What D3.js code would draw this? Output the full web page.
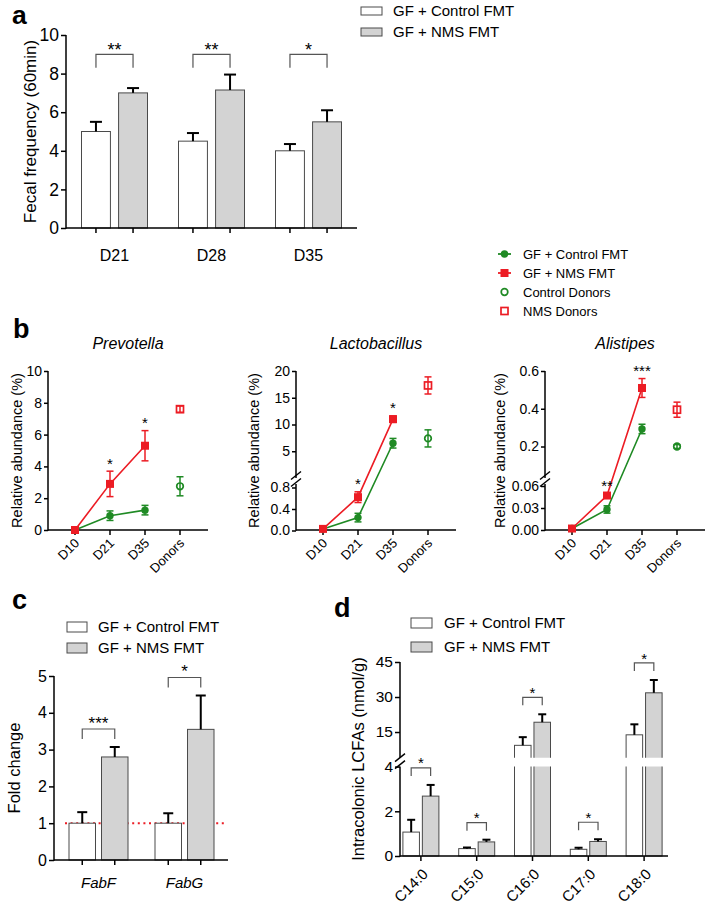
<!DOCTYPE html>
<html>
<head>
<meta charset="utf-8">
<script src="https://cdn.jsdelivr.net/npm/d3@7/dist/d3.min.js"></script>
<style>
html,body{margin:0;padding:0;background:#fff;}
svg{display:block;}
text{font-family:"Liberation Sans",Arial,Helvetica,sans-serif;fill:#000;}
</style>
</head>
<body>
<svg id="fig" width="709" height="906"></svg>
<script>
// ================= DATA =================
const seriesNames = ["GF + Control FMT", "GF + NMS FMT"];

// Panel a
const aDays = ["D21", "D28", "D35"];
const aControlMean = [5.0, 4.5, 4.0];
const aControlSem = [0.5, 0.42, 0.35];
const aNmsMean = [7.0, 7.15, 5.5];
const aNmsSem = [0.25, 0.8, 0.6];
const aStars = ["**", "**", "*"];
const aYTicks = [0, 2, 4, 6, 8, 10];

// Panel b
const bLegendLabels = ["GF + Control FMT", "GF + NMS FMT", "Control Donors", "NMS Donors"];
const bTimes = ["D10", "D21", "D35", "Donors"];
const bGenera = ["Prevotella", "Lactobacillus", "Alistipes"];

const prevControlMean = [0.0, 0.9, 1.25];
const prevControlSem = [0.05, 0.3, 0.3];
const prevNmsMean = [0.0, 2.9, 5.3];
const prevNmsSem = [0.05, 0.8, 0.95];
const prevDonorMean = [2.75, 7.6];   // [Control donors, NMS donors]
const prevDonorSem = [0.6, 0.2];
const prevStars = ["", "*", "*"];
const prevYTicks = [0, 2, 4, 6, 8, 10];

const lactoControlMean = [0.03, 0.24, 6.5];
const lactoControlSem = [0.01, 0.08, 0.9];
const lactoNmsMean = [0.03, 0.62, 11.0];
const lactoNmsSem = [0.01, 0.1, 0.6];
const lactoDonorMean = [7.4, 17.3];
const lactoDonorSem = [1.6, 1.6];
const lactoStars = ["", "*", "*"];
const lactoLowerTicks = [0.0, 0.4, 0.8];
const lactoUpperTicks = [5, 10, 15, 20];

const alisControlMean = [0.002, 0.028, 0.293];
const alisControlSem = [0.001, 0.005, 0.025];
const alisNmsMean = [0.002, 0.047, 0.51];
const alisNmsSem = [0.001, 0.003, 0.05];
const alisDonorMean = [0.2, 0.395];
const alisDonorSem = [0.01, 0.04];
const alisStars = ["", "**", "***"];
const alisLowerTicks = [0.00, 0.03, 0.06];
const alisUpperTicks = [0.2, 0.4, 0.6];

// Panel c
const cGenes = ["FabF", "FabG"];
const cControlMean = [1.0, 1.0];
const cControlSem = [0.3, 0.27];
const cNmsMean = [2.8, 3.55];
const cNmsSem = [0.27, 0.92];
const cStars = ["***", "*"];
const cYTicks = [0, 1, 2, 3, 4, 5];
const cReference = 1;

// Panel d
const dAcids = ["C14:0", "C15:0", "C16:0", "C17:0", "C18:0"];
const dControlMean = [1.07, 0.33, 9.3, 0.3, 13.8];
const dControlSem = [0.55, 0.05, 3.5, 0.07, 4.5];
const dNmsMean = [2.68, 0.63, 19.2, 0.65, 31.8];
const dNmsSem = [0.5, 0.1, 3.4, 0.1, 5.5];
const dStars = ["*", "*", "*", "*", "*"];
const dLowerTicks = [0, 2, 4];
const dUpperTicks = [15, 30, 45];

// ================= STYLE =================
const RED = "#ec1c24", GREEN = "#1f8a24", GRAYFILL = "#d3d3d3", OUTLINE = "#4a4a4a";
const svg = d3.select("#fig");
const defs = svg.append("defs");

function hline(g, x1, x2, y, w, c) {
  g.append("line").attr("x1", x1).attr("x2", x2).attr("y1", y).attr("y2", y)
    .attr("stroke", c || "#000").attr("stroke-width", w || 1.5);
}
function vline(g, x, y1, y2, w, c) {
  g.append("line").attr("x1", x).attr("x2", x).attr("y1", y1).attr("y2", y2)
    .attr("stroke", c || "#000").attr("stroke-width", w || 1.5);
}
function leftTicks(g, scale, ticks, axisX, fmt, fs, size, pad) {
  const axis = d3.axisLeft(scale).tickValues(ticks).tickSize(size).tickPadding(pad);
  if (fmt) axis.tickFormat(fmt);
  const ag = g.append("g").attr("transform", `translate(${axisX},0)`).call(axis);
  ag.select(".domain").remove();
  ag.selectAll(".tick line").attr("stroke", "#000").attr("stroke-width", 1.5);
  ag.selectAll(".tick text").attr("font-size", fs).attr("fill", "#000");
}
function breakMarks(g, axisX, yMid) {
  [-3.5, 3.5].forEach(o => {
    g.append("line").attr("x1", axisX - 5).attr("y1", yMid + o + 4)
      .attr("x2", axisX + 5).attr("y2", yMid + o - 4)
      .attr("stroke", "#000").attr("stroke-width", 1.5);
  });
}
function addClip(id, rects) {
  const cp = defs.append("clipPath").attr("id", id);
  rects.forEach(r => cp.append("rect").attr("x", r[0]).attr("y", r[1]).attr("width", r[2]).attr("height", r[3]));
}
function bracket(g, x1, x2, yTop, leg, star, fs, starGap) {
  const p = d3.path();
  p.moveTo(x1, yTop + leg); p.lineTo(x1, yTop); p.lineTo(x2, yTop); p.lineTo(x2, yTop + leg);
  g.append("path").attr("d", p.toString()).attr("fill", "none").attr("stroke", "#555").attr("stroke-width", 1.2);
  g.append("text").attr("x", (x1 + x2) / 2).attr("y", yTop - starGap + 0.57 * fs)
    .attr("text-anchor", "middle").attr("font-size", fs).text(star);
}
function barLegend(g, bx, rowsY, bw, bh, tx, fs) {
  seriesNames.forEach((s, k) => {
    g.append("rect").attr("x", bx).attr("y", rowsY[k] - bh / 2).attr("width", bw).attr("height", bh)
      .attr("fill", k ? GRAYFILL : "#fff").attr("stroke", OUTLINE).attr("stroke-width", 1);
    g.append("text").attr("x", tx).attr("y", rowsY[k]).attr("dy", "0.35em").attr("font-size", fs).text(s);
  });
}
// grouped bar drawer: returns bar centers
function groupedBars(g, cats, means, sems, xBand, xSub, y, y0, opt) {
  const barsG = g.append("g");
  if (opt.clip) barsG.attr("clip-path", `url(#${opt.clip})`);
  const errG = g.append("g");
  const centers = [];
  cats.forEach((c, i) => {
    const gc = xBand(c) + xBand.bandwidth() / 2;
    const row = [];
    seriesNames.forEach((s, k) => {
      const bx = gc + xSub(s);
      const v = means[k][i];
      barsG.append("rect").attr("x", bx).attr("y", y(v)).attr("width", xSub.bandwidth())
        .attr("height", y0 - y(v)).attr("fill", k ? GRAYFILL : "#fff")
        .attr("stroke", OUTLINE).attr("stroke-width", 1);
      const cx = bx + xSub.bandwidth() / 2;
      const top = y(v + sems[k][i]);
      vline(errG, cx, y(v), top, opt.errW);
      hline(errG, cx - opt.capW / 2, cx + opt.capW / 2, top, opt.errW);
      row.push({cx, top});
    });
    centers.push({gc, bars: row});
  });
  return centers;
}

// ================= PANEL a =================
{
  const g = svg.append("g");
  const x = d3.scaleBand().domain(aDays).range([66, 357]);
  const xs = d3.scaleBand().domain(seriesNames).range([-33, 33]).paddingInner(0.22);
  const y = d3.scaleLinear().domain([0, 10]).range([228, 35]);
  const cs = groupedBars(g, aDays, [aControlMean, aNmsMean], [aControlSem, aNmsSem], x, xs, y, y(0), {errW: 2, capW: 12});
  vline(g, 66, y(0) + 0.75, y(10));
  leftTicks(g, y, aYTicks, 66, d3.format("d"), 17.5, 5, 2);
  hline(g, 66, 357, y(0));
  cs.forEach((c, i) => {
    c.bars.forEach(b => vline(g, b.cx, y(0), y(0) + 5));
    g.append("text").attr("x", c.gc).attr("y", 261).attr("text-anchor", "middle").attr("font-size", 16).text(aDays[i]);
    bracket(g, c.bars[0].cx, c.bars[1].cx, y(9.0), y(8.3) - y(9.0), aStars[i], 18, 9);
  });
  g.append("text").attr("transform", `translate(36,${(y(0) + y(10)) / 2}) rotate(-90)`)
    .attr("text-anchor", "middle").attr("font-size", 17).text("Fecal frequency (60min)");
  g.append("text").attr("x", 12).attr("y", 24).attr("font-size", 26.5).attr("font-weight", "bold").text("a");
  barLegend(g, 361, [11, 32], 21, 8, 393, 15);
}

// ================= PANEL b =================
{
  const g = svg.append("g");
  g.append("text").attr("x", 13).attr("y", 338).attr("font-size", 27).attr("font-weight", "bold").text("b");

  // legend
  const legY = [254, 273, 292, 311];
  const lg = g.append("g");
  function marker(gg, type, cx, cy, color) {
    if (type === "fcircle") gg.append("circle").attr("cx", cx).attr("cy", cy).attr("r", 3.7).attr("fill", color);
    else if (type === "fsquare") gg.append("rect").attr("x", cx - 4).attr("y", cy - 4).attr("width", 8).attr("height", 8).attr("fill", color);
    else if (type === "ocircle") gg.append("circle").attr("cx", cx).attr("cy", cy).attr("r", 3.3).attr("fill", "none").attr("stroke", color).attr("stroke-width", 1.7);
    else gg.append("rect").attr("x", cx - 3.5).attr("y", cy - 3.5).attr("width", 7).attr("height", 7).attr("fill", "none").attr("stroke", color).attr("stroke-width", 1.7);
  }
  const legTypes = [["fcircle", GREEN, true], ["fsquare", RED, true], ["ocircle", GREEN, false], ["osquare", RED, false]];
  bLegendLabels.forEach((lab, k) => {
    const [t, col, hasLine] = legTypes[k];
    if (hasLine) hline(lg, 498, 511, legY[k], 1.8, col);
    marker(lg, t, 504.5, legY[k], col);
    lg.append("text").attr("x", 523).attr("y", legY[k]).attr("dy", "0.35em").attr("font-size", 13).text(lab);
  });

  const panels = [
    {name: bGenera[0], ax: 48, titleOff: 26,
     ctrlM: prevControlMean, ctrlS: prevControlSem, nmsM: prevNmsMean, nmsS: prevNmsSem,
     donM: prevDonorMean, donS: prevDonorSem, stars: prevStars,
     segs: [{scale: d3.scaleLinear().domain([0, 10]).range([530, 371]), ticks: prevYTicks, fmt: d3.format("d"), yB: 530, yT: 371}]},
    {name: bGenera[1], ax: 296, titleOff: 37,
     ctrlM: lactoControlMean, ctrlS: lactoControlSem, nmsM: lactoNmsMean, nmsS: lactoNmsSem,
     donM: lactoDonorMean, donS: lactoDonorSem, stars: lactoStars,
     segs: [{scale: d3.scaleLinear().domain([0, 0.8]).range([530.5, 487.5]), ticks: lactoLowerTicks, fmt: d3.format(".1f"), yB: 530, yT: 484},
            {scale: d3.scaleLinear().domain([0, 20]).range([478, 371]), ticks: lactoUpperTicks, fmt: d3.format("d"), yB: 478, yT: 371}]},
    {name: bGenera[2], ax: 545, titleOff: 40,
     ctrlM: alisControlMean, ctrlS: alisControlSem, nmsM: alisNmsMean, nmsS: alisNmsSem,
     donM: alisDonorMean, donS: alisDonorSem, stars: alisStars,
     segs: [{scale: d3.scaleLinear().domain([0, 0.06]).range([530, 486]), ticks: alisLowerTicks, fmt: d3.format(".2f"), yB: 530, yT: 484},
            {scale: d3.scaleLinear().domain([0.03, 0.6]).range([478.6, 371]), ticks: alisUpperTicks, fmt: d3.format(".1f"), yB: 478, yT: 371}]}
  ];

  panels.forEach((p, pi) => {
    const pg = g.append("g");
    const x = d3.scalePoint().domain(bTimes).range([p.ax + 27, p.ax + 132]);
    const segMax = p.segs.map(s => s.scale.invert(s.yT));
    const yOf = v => {
      for (let i = 0; i < p.segs.length; i++) if (v <= segMax[i] || i === p.segs.length - 1) return p.segs[i].scale(v);
    };
    // axes
    p.segs.forEach(s => {
      vline(pg, p.ax, s.yB + (s.yB === 530 ? 0.75 : 0), s.yT);
      leftTicks(pg, s.scale, s.ticks, p.ax, s.fmt, 14, 4, 2);
    });
    if (p.segs.length > 1) breakMarks(pg, p.ax, (p.segs[0].yT + p.segs[1].yB) / 2 - 2);
    hline(pg, p.ax, p.ax + 160, 530);
    bTimes.forEach(t => {
      vline(pg, x(t), 530, 535);
      pg.append("text").attr("transform", `translate(${x(t) + 5},544) rotate(-45)`)
        .attr("text-anchor", "end").attr("font-size", 13).text(t);
    });
    pg.append("text").attr("x", p.ax + 80).attr("y", 348.5).attr("text-anchor", "middle")
      .attr("font-size", 16).attr("font-style", "italic").text(p.name);
    pg.append("text").attr("transform", `translate(${p.ax - p.titleOff},450.5) rotate(-90)`)
      .attr("text-anchor", "middle").attr("font-size", 14.5).text("Relative abundance (%)");

    // clip for lines
    let clipAttr = null;
    if (p.segs.length > 1) {
      const id = "bclip" + pi;
      addClip(id, p.segs.map(s => [p.ax, s.yT - 20, 180, (s.yB === 530 ? 545 : s.yB) - (s.yT - 20)]));
      clipAttr = `url(#${id})`;
    }
    const line = d3.line().x(d => x(d.t)).y(d => yOf(d.v));
    const groups = [
      {m: p.ctrlM, s: p.ctrlS, col: GREEN, type: "fcircle", dType: "ocircle", dIdx: 0},
      {m: p.nmsM, s: p.nmsS, col: RED, type: "fsquare", dType: "osquare", dIdx: 1}
    ];
    groups.forEach(gr => {
      const pts = bTimes.slice(0, 3).map((t, i) => ({t, v: gr.m[i], e: gr.s[i]}));
      const lp = pg.append("path").attr("d", line(pts)).attr("fill", "none").attr("stroke", gr.col).attr("stroke-width", 1.6);
      if (clipAttr) lp.attr("clip-path", clipAttr);
      const all = pts.concat([{t: "Donors", v: p.donM[gr.dIdx], e: p.donS[gr.dIdx], donor: true}]);
      all.forEach(d => {
        const cx = x(d.t), yt = yOf(d.v + d.e), yb = yOf(Math.max(0, d.v - d.e));
        if (d.donor) marker(pg, gr.dType, cx, yOf(d.v), gr.col);
        vline(pg, cx, yb, yt, 1.5, gr.col);
        hline(pg, cx - 3.5, cx + 3.5, yt, 1.5, gr.col);
        hline(pg, cx - 3.5, cx + 3.5, yb, 1.5, gr.col);
        if (!d.donor) marker(pg, gr.type, cx, yOf(d.v), gr.col);
      });
    });
    // significance stars over NMS series
    p.stars.forEach((st, i) => {
      if (!st) return;
      const yt = yOf(p.nmsM[i] + p.nmsS[i]);
      pg.append("text").attr("x", x(bTimes[i])).attr("y", yt - 11 + 0.57 * 15)
        .attr("text-anchor", "middle").attr("font-size", 15).text(st);
    });
  });
}

// ================= PANEL c =================
{
  const g = svg.append("g");
  const x = d3.scaleBand().domain(cGenes).range([55.5, 227.5]);
  const xs = d3.scaleBand().domain(seriesNames).range([-29.5, 29.5]).paddingInner(0.185);
  const y = d3.scaleLinear().domain([0, 5]).range([860, 676]);
  g.append("line").attr("x1", 65).attr("x2", 227).attr("y1", y(cReference)).attr("y2", y(cReference))
    .attr("stroke", RED).attr("stroke-width", 2).attr("stroke-dasharray", "2,3.6");
  const cs = groupedBars(g, cGenes, [cControlMean, cNmsMean], [cControlSem, cNmsSem], x, xs, y, y(0), {errW: 2, capW: 10});
  vline(g, 54, y(0) + 0.75, y(5));
  leftTicks(g, y, cYTicks, 54, d3.format("d"), 16, 5, 2);
  hline(g, 54, 228, y(0));
  cs.forEach((c, i) => {
    c.bars.forEach(b => vline(g, b.cx, y(0), y(0) + 5));
    g.append("text").attr("x", c.gc).attr("y", 888).attr("text-anchor", "middle").attr("font-size", 15)
      .attr("font-style", "italic").text(cGenes[i]);
    const top = Math.min(c.bars[0].top, c.bars[1].top) - 18;
    bracket(g, c.bars[0].cx, c.bars[1].cx, top, 10, cStars[i], 17, 10);
  });
  g.append("text").attr("transform", `translate(20,${(y(0) + y(5)) / 2}) rotate(-90)`)
    .attr("text-anchor", "middle").attr("font-size", 16.5).text("Fold change");
  g.append("text").attr("x", 12).attr("y", 609).attr("font-size", 27).attr("font-weight", "bold").text("c");
  barLegend(g, 67, [627, 648], 20, 10, 98, 15);
}

// ================= PANEL d =================
{
  const g = svg.append("g");
  const x = d3.scaleBand().domain(dAcids).range([393, 672]);
  const xs = d3.scaleBand().domain(seriesNames).range([-18, 18]).paddingInner(0.15);
  const lower = d3.scaleLinear().domain([0, 4]).range([856, 766.6]);
  const upper = d3.scaleLinear().domain([4, 45]).range([757.7, 662]);
  const y = v => (v <= 4 ? lower(v) : upper(v));
  addClip("dclip", [[395, 766.6, 290, 95], [395, 640, 290, 117.7]]);
  const cs = groupedBars(g, dAcids, [dControlMean, dNmsMean], [dControlSem, dNmsSem], x, xs, y, lower(0), {errW: 2, capW: 8, clip: "dclip"});
  vline(g, 400, lower(0) + 0.75, lower(4));
  vline(g, 400, upper(4), upper(45));
  leftTicks(g, lower, dLowerTicks, 400, d3.format("d"), 15.5, 5, 2);
  leftTicks(g, upper, dUpperTicks, 400, d3.format("d"), 15.5, 5, 2);
  breakMarks(g, 400, (lower(4) + upper(4)) / 2 - 1);
  hline(g, 400, 668, lower(0));
  cs.forEach((c, i) => {
    vline(g, c.gc, lower(0), lower(0) + 5);
    g.append("text").attr("transform", `translate(${c.gc + 8},875) rotate(-45)`)
      .attr("text-anchor", "end").attr("font-size", 15).text(dAcids[i]);
    const top = Math.min(c.bars[0].top, c.bars[1].top) - 17;
    bracket(g, c.bars[0].cx, c.bars[1].cx, top, 8, dStars[i], 15, 8);
  });
  g.append("text").attr("transform", `translate(364,${(lower(0) + upper(45)) / 2}) rotate(-90)`)
    .attr("text-anchor", "middle").attr("font-size", 16.5).text("Intracolonic LCFAs (nmol/g)");
  g.append("text").attr("x", 334).attr("y", 617).attr("font-size", 27).attr("font-weight", "bold").text("d");
  barLegend(g, 411, [623, 647], 21, 10, 444, 15);
}
</script>
</body>
</html>
